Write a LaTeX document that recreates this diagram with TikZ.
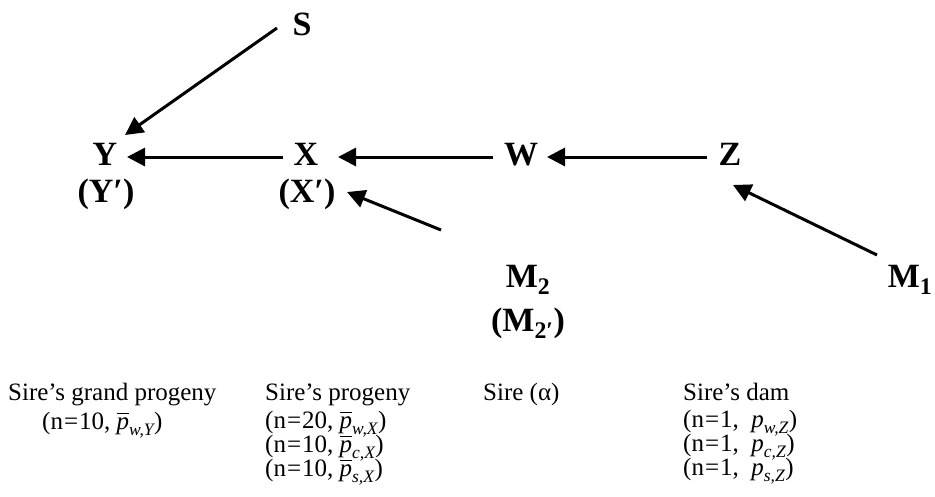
\documentclass[tikz,border=0pt]{standalone}
\usepackage{amsmath}
\usepackage{fontspec}
\setmainfont{Liberation Serif}
\usetikzlibrary{arrows.meta}
\newcommand\pbar[1]{$\overline{\textit{p}}_{\textit{#1}}$}
\newcommand\pplain[1]{$\textit{p}_{\textit{#1}}$}
\newcommand\nn[1]{n\kern1pt=\kern1pt#1}
\begin{document}
\begin{tikzpicture}[x=1pt,y=-1pt,
  lbl/.style={inner sep=0pt,anchor=base,font=\fontsize{34}{38}\selectfont\bfseries},
  captxt/.style={inner sep=0pt,anchor=base west,font=\fontsize{25}{28}\selectfont},
  arr/.style={line width=3pt,-{Triangle[length=18pt,width=18pt]}}]
\useasboundingbox (0,0) rectangle (935,496);
% nodes
\node[lbl] (S) at (302,35) {S};
\node[lbl] (Y) at (105,165) {Y};
\node[lbl] (Yp) at (106,202) {(Y\char"2032)};
\node[lbl] (X) at (306,165) {X};
\node[lbl] (Xp) at (307,202) {(X\char"2032)};
\node[lbl] (W) at (521,165) {W};
\node[lbl] (Z) at (730,165) {Z};
\node[lbl] (M2) at (528,287) {M$_{\textbf{2}}$};
\node[lbl] (M2p) at (528,331) {(M$_{\textbf{2\char"2032}}$)};
\node[lbl] (M1) at (910,287) {M$_{\textbf{1}}$};
% connectors
\draw[arr] ([shift={(-25,-7)}]S.base) -- ([shift={(20,-30)}]Y.base);
\draw[arr] ([shift={(-23,-8)}]X.base) -- ([shift={(22,-8)}]Y.base);
\draw[arr] ([shift={(-28,-8)}]W.base) -- ([shift={(32,-8)}]X.base);
\draw[arr] ([shift={(-23,-8)}]Z.base) -- ([shift={(26,-8)}]W.base);
\draw[arr] ([shift={(-87,-57)}]M2.base) -- ([shift={(40,-10)}]Xp.base);
\draw[arr] ([shift={(-33,-32)}]M1.base) -- ([shift={(3,20)}]Z.base);
% captions
\node[captxt] (c1a) at (8,400) {Sire’s grand progeny};
\node[captxt] (c1b) at (42,429) {(\nn{10}, \pbar{w,Y})};
\node[captxt] (c2a) at (265,400) {Sire’s progeny};
\node[captxt] (c2b) at (265,428) {(\nn{20}, \pbar{w,X})};
\node[captxt] (c2c) at (265,452) {(\nn{10}, \pbar{c,X})};
\node[captxt] (c2d) at (265,476) {(\nn{10}, \pbar{s,X})};
\node[captxt] (c3a) at (483,400) {Sire (α)};
\node[captxt] (c4a) at (683,400) {Sire’s dam};
\node[captxt] (c4b) at (683,427) {(\nn{1},\ \ \pplain{w,Z})};
\node[captxt] (c4c) at (683,451) {(\nn{1},\ \ \pplain{c,Z})};
\node[captxt] (c4d) at (683,475) {(\nn{1},\ \ \pplain{s,Z})};
\end{tikzpicture}
\end{document}
